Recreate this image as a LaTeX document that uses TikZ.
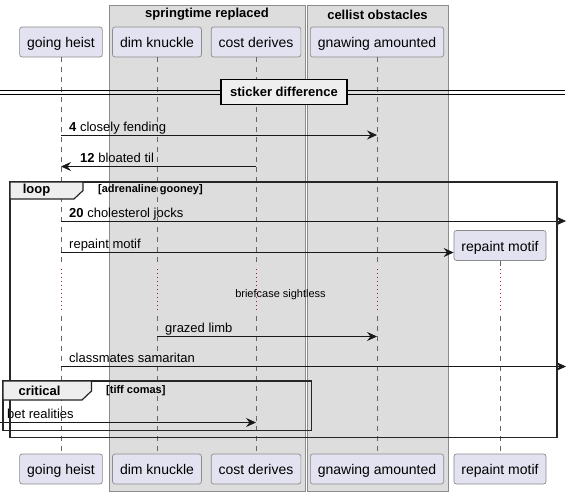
\documentclass[tikz,border=0pt]{standalone}
\usepackage{fontspec}
\setmainfont{Liberation Sans}
\usetikzlibrary{arrows.meta}
\definecolor{partfill}{HTML}{E2E2F0}
\definecolor{partdraw}{HTML}{8C8C8C}
\definecolor{grpfill}{HTML}{DDDDDD}
\definecolor{grpdraw}{HTML}{8C8C8C}
\definecolor{lifeln}{HTML}{666666}
\definecolor{delayc}{HTML}{B0104A}
\definecolor{tabfill}{HTML}{EEEEEE}
\tikzset{
  part/.style={draw=partdraw, fill=partfill, rounded corners=2.5pt, minimum height=30pt, inner xsep=7.5pt, inner ysep=0pt, text height=11.5pt, text depth=0pt, font=\fontsize{14}{16}\selectfont, line width=0.7pt},
  msg/.style={-{Stealth[length=10pt,width=9pt,inset=3.5pt]}, line width=0.8pt, draw=black!90},
  lbl/.style={anchor=base west, inner sep=0pt, font=\fontsize{13}{15}\selectfont},
  lifeline/.style={draw=lifeln, line width=0.6pt, dash pattern=on 5pt off 5pt},
  delayline/.style={draw=delayc, line width=1pt, dash pattern=on 1pt off 3pt},
  grp/.style={draw=grpdraw, fill=grpfill, line width=0.8pt},
  grptitle/.style={font=\bfseries\fontsize{13}{15}\selectfont, inner sep=0pt},
  frameline/.style={draw=black!85, line width=1.4pt},
  tabbox/.style={draw=black!85, fill=tabfill, line width=1.2pt},
  tabtext/.style={font=\bfseries\fontsize{13}{15}\selectfont, inner sep=0pt},
  condtext/.style={font=\bfseries\fontsize{11}{13}\selectfont, inner sep=0pt},
}
\begin{document}
\begin{tikzpicture}[x=1pt,y=-1pt]
\useasboundingbox (0,0) rectangle (572,495);
\fill[white] (0,0) rectangle (572,495);
% groups
\draw[grp] (109,5) rectangle (305,491);
\draw[grp] (307,5) rectangle (448,491);
\node[grptitle] (g1) at (207,14.5) {springtime replaced};
\node[grptitle] (g2) at (377.5,14.5) {cellist obstacles};
% heads
\node[part] (gh) at (61,42) {going heist};
\node[part] (dk) at (157,42) {dim knuckle};
\node[part] (cd) at (256,42) {cost derives};
\node[part] (ga) at (377,42) {gnawing amounted};
\node[part] (gh2) at (61,469) {going heist};
\node[part] (dk2) at (157,469) {dim knuckle};
\node[part] (cd2) at (256,469) {cost derives};
\node[part] (ga2) at (377,469) {gnawing amounted};
\node[part] (rm2) at (500,469) {repaint motif};
\node[part] (rm) at (500,245.5) {repaint motif};
% lifelines
\foreach \n in {gh,dk,cd,ga}{
  \draw[lifeline] (\n.south) -- (\n |- 0,266);
  \draw[delayline] (\n |- 0,269) -- (\n |- 0,313);
  \draw[lifeline] (\n |- 0,316) -- (\n2.north);
}
\draw[lifeline] (rm.south) -- (rm |- 0,266);
\draw[delayline] (rm |- 0,269) -- (rm |- 0,313);
\draw[lifeline] (rm |- 0,316) -- (rm2.north);
% separator
\draw[line width=0.9pt] (0,90) -- (565,90);
\draw[line width=0.9pt] (0,94) -- (565,94);
\node[draw=black, line width=1.4pt, fill=tabfill, minimum width=126pt, minimum height=25pt, inner sep=0pt, font=\bfseries\fontsize{13}{15}\selectfont] (sep) at (284,92) {sticker difference};
% messages
\coordinate (edgeR1) at (566,221);
\coordinate (edgeR2) at (566,366.5);
\coordinate (edgeL) at (0,422.5);
\draw[msg] (gh |- 0,135) -- (ga |- 0,135);
\node[lbl] (m1) at (69,131) {\textbf{4} closely fending};
\draw[msg] (cd |- 0,166.5) -- (gh |- 0,166.5);
\node[lbl] (m2) at (80,162) {\textbf{12} bloated til};
\draw[msg] (gh |- 0,221) -- (edgeR1);
\node[lbl] (m3) at (69,217) {\textbf{20} cholesterol jocks};
\draw[msg] (gh |- 0,252.5) -- (rm.west |- 0,252.5);
\node[lbl] (m4) at (69,248) {repaint motif};
\node[inner sep=0pt, font=\fontsize{11}{13}\selectfont] (dl) at (280.5,294.5) {briefcase sightless};
\draw[msg] (dk |- 0,336.5) -- (ga |- 0,336.5);
\node[lbl] (m5) at (165,332) {grazed limb};
\draw[msg] (gh |- 0,366.5) -- (edgeR2);
\node[lbl] (m6) at (69,362) {classmates samaritan};
\draw[msg] (edgeL) -- (cd |- 0,422.5);
\node[lbl] (m7) at (7,418) {bet realities};
% loop frame
\draw[frameline] (10,182) rectangle (557,437.5);
\draw[tabbox] (10,182) -- (83,182) -- (83,190.5) -- (74,199) -- (10,199) -- cycle;
\node[tabtext] (lp) at (36.5,190.5) {loop};
\node[condtext, anchor=west] (lc) at (98,189.5) {[adrenaline gooney]};
% critical frame
\draw[frameline] (3,381) rectangle (311.5,430.5);
\draw[tabbox] (3,381) -- (91.5,381) -- (91.5,391) -- (82,400) -- (3,400) -- cycle;
\node[tabtext] (cr) at (39.5,390.5) {critical};
\node[condtext, anchor=west] (cc) at (106,391) {[tiff comas]};
\end{tikzpicture}
\end{document}
